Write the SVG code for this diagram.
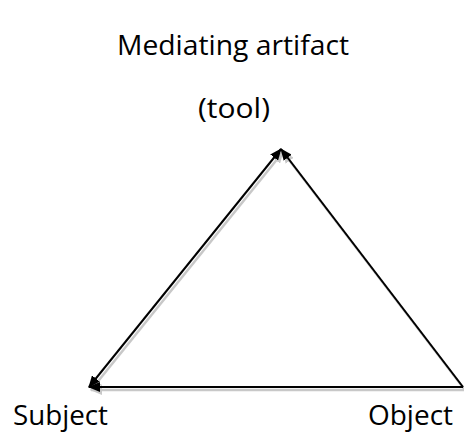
<svg xmlns="http://www.w3.org/2000/svg" width="464" height="433" viewBox="0 0 464 433">
<style>
.t{font-family:"Open Sans","Noto Sans",sans-serif;font-size:27px;fill:#000}
.ln{stroke:#000;stroke-width:2;fill:none}
.sh{stroke:#c8c8c8;stroke-width:2.5;fill:none}
</style>
<defs>
<marker id="ah" viewBox="0 0 12 10" refX="11" refY="5" markerWidth="12" markerHeight="10" markerUnits="userSpaceOnUse" orient="auto-start-reverse">
<path d="M0,0 L12,5 L0,10 Z" fill="#000"/>
</marker>
<marker id="ahs" viewBox="0 0 12 10" refX="11" refY="5" markerWidth="12" markerHeight="10" markerUnits="userSpaceOnUse" orient="auto-start-reverse">
<path d="M0,0 L12,5 L0,10 Z" fill="#c8c8c8"/>
</marker>
</defs>
<rect width="464" height="433" fill="#fff"/>
<g id="connectors">
<g transform="translate(2,3)">
<line class="sh" x1="89" y1="387" x2="281" y2="149" marker-start="url(#ahs)" marker-end="url(#ahs)"/>
<line class="sh" x1="463" y1="387" x2="281" y2="149" marker-end="url(#ahs)"/>
<line class="sh" x1="463" y1="387" x2="89" y2="387" marker-end="url(#ahs)"/>
</g>
<line class="ln" x1="89" y1="387" x2="281" y2="149" marker-start="url(#ah)" marker-end="url(#ah)"/>
<line class="ln" x1="463" y1="387" x2="281" y2="149" marker-end="url(#ah)"/>
<line class="ln" x1="463" y1="387" x2="89" y2="387" marker-end="url(#ah)"/>
</g>
<g id="node-tool">
<text class="t" x="117" y="55" textLength="232" lengthAdjust="spacingAndGlyphs">Mediating artifact</text>
<text class="t" x="198" y="118" textLength="72" lengthAdjust="spacingAndGlyphs">(tool)</text>
</g>
<g id="node-subject">
<text class="t" x="13" y="425" textLength="95" lengthAdjust="spacingAndGlyphs">Subject</text>
</g>
<g id="node-object">
<text class="t" x="368" y="425" textLength="85" lengthAdjust="spacingAndGlyphs">Object</text>
</g>
</svg>
